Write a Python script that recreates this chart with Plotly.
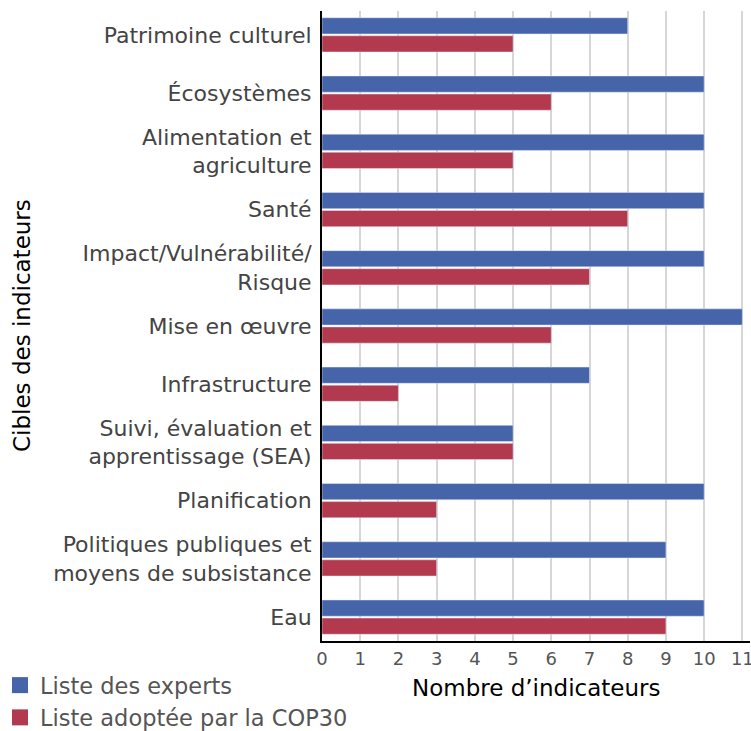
import plotly.graph_objects as go

categories = [
    "Patrimoine culturel",
    "Écosystèmes",
    "Alimentation et<br>agriculture",
    "Santé",
    "Impact/Vulnérabilité/<br>Risque",
    "Mise en œuvre",
    "Infrastructure",
    "Suivi, évaluation et<br>apprentissage (SEA)",
    "Planification",
    "Politiques publiques et<br>moyens de subsistance",
    "Eau",
]
experts = [8, 10, 10, 10, 10, 11, 7, 5, 10, 9, 10]
cop30 = [5, 6, 5, 8, 7, 6, 2, 5, 3, 3, 9]
series_names = ["Liste des experts", "Liste adoptée par la COP30"]
colors = ["#4664AA", "#B33A4E"]
x_ticks = list(range(0, 12))

FONT = "DejaVu Sans, Liberation Sans, Arial, sans-serif"

fig = go.Figure()
for vals, name, col in zip([experts, cop30], series_names, colors):
    fig.add_trace(go.Bar(y=categories, x=vals, name=name, orientation="h",
                         marker_color=col, showlegend=False))
# legend entries with larger square swatches
for name, col in zip(series_names, colors):
    fig.add_trace(go.Scatter(x=[None], y=[None], mode="markers", name=name,
                             marker=dict(symbol="square", size=16, color=col),
                             showlegend=True, hoverinfo="skip"))

fig.update_layout(
    width=751, height=731,
    margin=dict(l=322, r=1, t=11, b=90, autoexpand=False),
    paper_bgcolor="white", plot_bgcolor="white",
    barmode="group", bargap=0.38, bargroupgap=0.1,
    font=dict(family=FONT, color="#444"),
    showlegend=True,
    legend=dict(
        orientation="v", xref="container", yref="container",
        x=0, y=1 - 664 / 731, xanchor="left", yanchor="top",
        font=dict(size=22.5, color="#555"), traceorder="normal",
        itemwidth=30, tracegroupgap=0, bgcolor="rgba(0,0,0,0)",
    ),
    xaxis=dict(
        range=[0, 11.2], tickvals=x_ticks, tickangle=0, automargin=False,
        ticklabeloverflow="allow",
        showgrid=True, gridcolor="#d6d6d6", gridwidth=2,
        showline=True, linecolor="black", linewidth=2, zeroline=False,
        ticks="", tickfont=dict(size=18, color="#555"),
    ),
    yaxis=dict(
        range=[10.41, -0.41], automargin=False,
        showline=True, linecolor="black", linewidth=2,
        showgrid=False, ticks="", ticklabelstandoff=4,
        tickfont=dict(size=22, color="#444"),
    ),
    annotations=[
        dict(text="Cibles des indicateurs", textangle=-90, xref="paper", yref="paper",
             x=0, xshift=-300, xanchor="center", y=0.5, yanchor="middle", showarrow=False,
             font=dict(size=23, color="black")),
        dict(text="Nombre d’indicateurs", xref="paper", yref="paper",
             x=0.5, xanchor="center", y=0, yshift=-47, yanchor="middle", showarrow=False,
             font=dict(size=23, color="black")),
    ],
)

fig.write_html("out.html", config={"displayModeBar": False},
               post_script="document.body.style.margin='0px';")
